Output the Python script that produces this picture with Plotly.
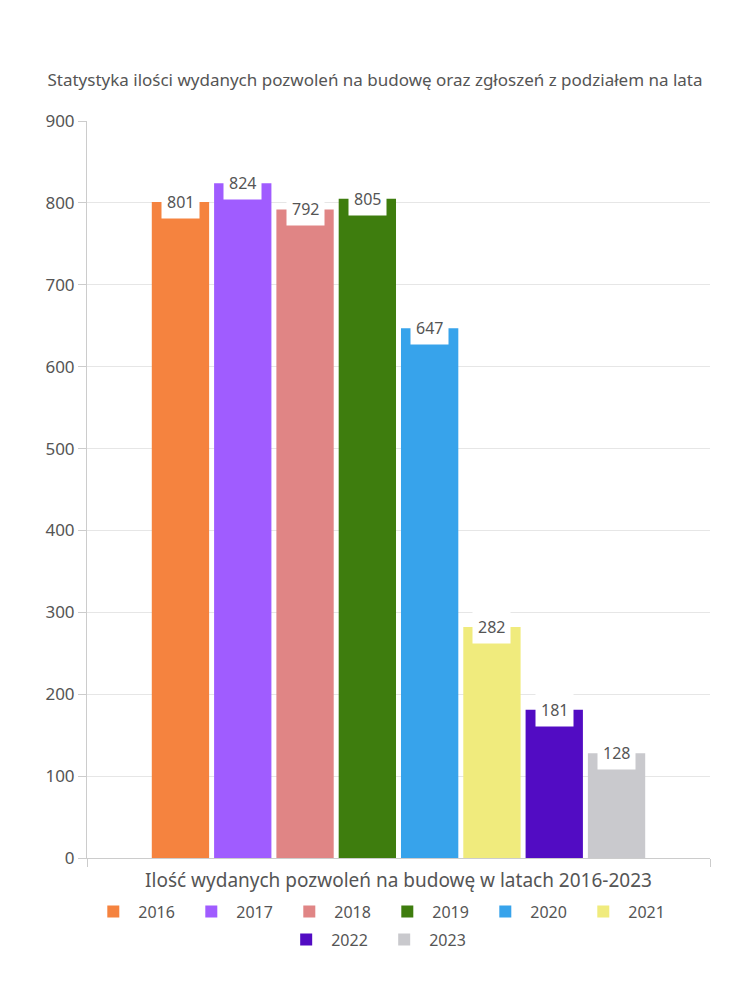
import plotly.graph_objects as go

category = "Ilość wydanych pozwoleń na budowę w latach 2016-2023"
years = ["2016", "2017", "2018", "2019", "2020", "2021", "2022", "2023"]
values = [801, 824, 792, 805, 647, 282, 181, 128]
colors = ["#F5833F", "#A05CFF", "#E08585", "#3E7D0E", "#37A3EB",
          "#F0EB7D", "#520CC3", "#C9C9CD"]
y_ticks = [0, 100, 200, 300, 400, 500, 600, 700, 800, 900]

FONT = "Noto Sans"
TXT = "#555555"
BARGAP = 0.2

fig = go.Figure()
for i, (yr, v, c) in enumerate(zip(years, values, colors)):
    fig.add_trace(go.Bar(
        x=[category], y=[v], name=yr,
        marker=dict(color=c, line=dict(width=0)),
        hoverinfo="y+name",
        legend="legend" if i < 6 else "legend2",
    ))

n = len(years)
slot = (1 - BARGAP) / n
for i, v in enumerate(values):
    fig.add_annotation(
        x=-(1 - BARGAP) / 2 + (i + 0.5) * slot, y=v, xref="x", yref="y",
        text=str(v), showarrow=False, yanchor="middle",
        bgcolor="white", borderpad=5,
        font=dict(family=FONT, size=16, color=TXT),
    )

legend_common = dict(
    orientation="h", xanchor="center", yanchor="top",
    font=dict(family=FONT, size=16, color=TXT),
    itemwidth=40, entrywidth=43, traceorder="normal",
)

fig.update_layout(
    width=750, height=1000,
    margin=dict(l=87, r=40, t=121, b=142, autoexpand=False),
    paper_bgcolor="white", plot_bgcolor="white",
    barmode="group", bargap=BARGAP, bargroupgap=0.08,
    font=dict(family=FONT, color=TXT),
    title=dict(text="Statystyka ilości wydanych pozwoleń na budowę oraz zgłoszeń z podziałem na lata",
               x=0.5, xanchor="center", y=0.92, yref="container", yanchor="middle",
               font=dict(family=FONT, size=17, color=TXT)),
    xaxis=dict(
        type="category", tickson="boundaries", ticks="outside", ticklen=8,
        tickcolor="#cccccc", showticklabels=False, showgrid=True,
        gridcolor="#e0e0e0", showline=True, linecolor="#cccccc",
        title=dict(text=category, standoff=15,
                   font=dict(family=FONT, size=19, color=TXT)),
    ),
    yaxis=dict(
        range=[0, 900], tickvals=y_ticks, ticks="outside", ticklen=8,
        tickcolor="#cccccc", gridcolor="#e6e6e6", showline=True,
        linecolor="#cccccc", zeroline=False,
        tickfont=dict(family=FONT, size=17, color=TXT),
    ),
    legend=dict(x=0.474, y=-0.0495, **legend_common),
    legend2=dict(x=0.469, y=-0.0875, **legend_common),
    showlegend=True,
)

fig.write_html("out.html")
